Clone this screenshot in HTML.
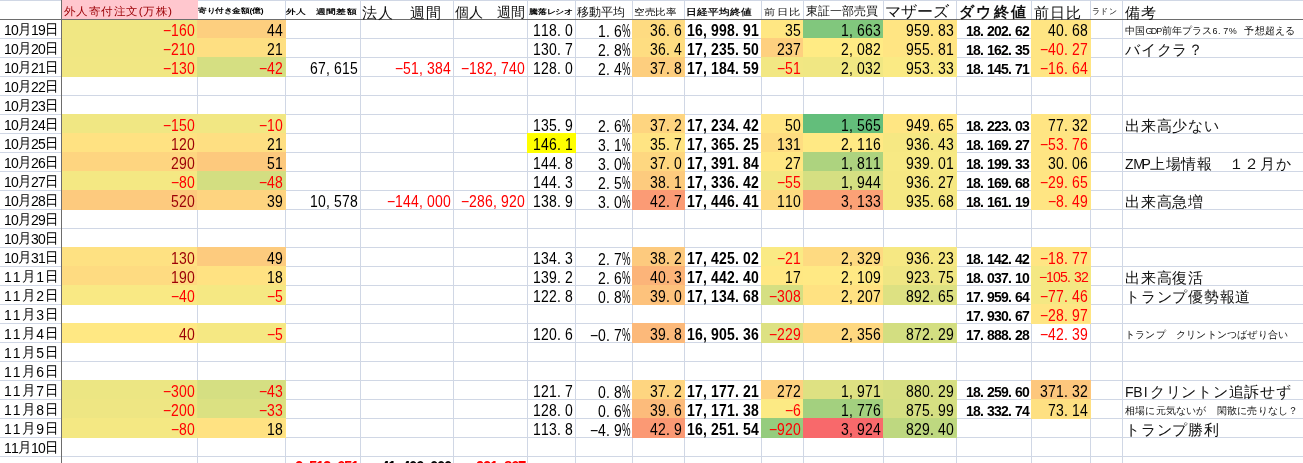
<!DOCTYPE html><html lang="ja"><head><meta charset="utf-8"><style>
html,body{margin:0;padding:0;background:#fff;}
body{width:1303px;height:463px;overflow:hidden;position:relative;font-family:"Liberation Sans",sans-serif;}
.vl{position:absolute;top:0;width:1px;height:463px;background:#D0D7E5}
.hl{position:absolute;left:0;height:1px;width:1303px;background:#D0D7E5}
.f{position:absolute}
.tx{position:absolute;left:0;top:0;width:1303px;height:463px;will-change:transform}
.dk1{position:absolute;left:61px;top:0;width:1px;height:463px;background:#6D6D6D}
.dk2{position:absolute;left:0;top:19px;height:1px;width:1303px;background:#6D6D6D}
.n{position:absolute;height:19px;line-height:19px;white-space:nowrap;transform:scaleY(1.13);transform-origin:0 17px}
.n i{display:inline-block;font-style:normal;text-align:left;overflow:visible}
.n.b{font-weight:bold}
.dt{position:absolute;left:4px;width:54px;display:flex;justify-content:space-between;height:19px;line-height:19px;font-size:14px;white-space:nowrap;transform:scaleY(1.04);transform-origin:0 16px;padding-top:2px;box-sizing:border-box}
.dt i{display:inline-block;font-style:normal;width:7px}
.dt b{font-weight:normal;font-size:13.5px;display:inline-block;width:13px;vertical-align:top;margin-top:-1.5px}
.note{position:absolute;left:1125px;height:19px;white-space:nowrap;color:#111}
.note.big{font-size:15px;line-height:19px;letter-spacing:0.75px;padding-top:1.5px}
.note.big i{display:inline-block;font-style:normal;width:8.3px;text-align:center;letter-spacing:0;font-size:14px}
.note.small{font-size:9.5px;line-height:19px;padding-top:2px;letter-spacing:0.2px}
.note.small i{display:inline-block;font-style:normal;width:5.4px;text-align:left;font-size:9px}
.h{position:absolute;top:0;height:19px;line-height:19px;white-space:nowrap;color:#111;transform-origin:0 15px}
.hB{color:#9C0006;font-size:12px}
.hC{font-size:8px;font-weight:bold}
.hD{font-size:9px}
.hE{font-size:15px;letter-spacing:0.6px}
.hF{font-size:14px}
.hG{font-size:8px;font-weight:bold}
.hH{font-size:12px}
.hI{font-size:10px}
.hJ{font-size:11px;font-weight:bold}
.hK{font-size:11.5px}
.hL{font-size:11.5px}
.hM{font-size:15.5px}
.hN{font-size:16px;font-weight:bold}
.hO{font-size:15px}
.hP{font-size:7px}
.hQ{font-size:15px}
</style></head><body><div class="vl" style="left:197px"></div><div class="vl" style="left:285px"></div><div class="vl" style="left:360px"></div><div class="vl" style="left:453px"></div><div class="vl" style="left:527px"></div><div class="vl" style="left:575px"></div><div class="vl" style="left:632px"></div><div class="vl" style="left:684px"></div><div class="vl" style="left:761px"></div><div class="vl" style="left:803px"></div><div class="vl" style="left:883px"></div><div class="vl" style="left:956px"></div><div class="vl" style="left:1031px"></div><div class="vl" style="left:1090px"></div><div class="vl" style="left:1122px"></div><div class="hl" style="top:0px"></div><div class="hl" style="top:38px"></div><div class="hl" style="top:57px"></div><div class="hl" style="top:76px"></div><div class="hl" style="top:95px"></div><div class="hl" style="top:114px"></div><div class="hl" style="top:133px"></div><div class="hl" style="top:152px"></div><div class="hl" style="top:171px"></div><div class="hl" style="top:190px"></div><div class="hl" style="top:209px"></div><div class="hl" style="top:228px"></div><div class="hl" style="top:247px"></div><div class="hl" style="top:266px"></div><div class="hl" style="top:285px"></div><div class="hl" style="top:304px"></div><div class="hl" style="top:323px"></div><div class="hl" style="top:342px"></div><div class="hl" style="top:361px"></div><div class="hl" style="top:380px"></div><div class="hl" style="top:399px"></div><div class="hl" style="top:418px"></div><div class="hl" style="top:437px"></div><div class="hl" style="top:456px"></div><div class="f" style="left:61px;top:19px;width:137px;height:20px;background:#F0E783"></div><div class="f" style="left:197px;top:19px;width:89px;height:20px;background:#FDCF7F"></div><div class="f" style="left:61px;top:38px;width:137px;height:20px;background:#F0E783"></div><div class="f" style="left:197px;top:38px;width:89px;height:20px;background:#FEDF82"></div><div class="f" style="left:61px;top:57px;width:137px;height:20px;background:#F1E783"></div><div class="f" style="left:197px;top:57px;width:89px;height:20px;background:#D5DF82"></div><div class="f" style="left:61px;top:114px;width:137px;height:20px;background:#F0E783"></div><div class="f" style="left:197px;top:114px;width:89px;height:20px;background:#F1E783"></div><div class="f" style="left:61px;top:133px;width:137px;height:20px;background:#FFE282"></div><div class="f" style="left:197px;top:133px;width:89px;height:20px;background:#FEDF82"></div><div class="f" style="left:61px;top:152px;width:137px;height:20px;background:#FED580"></div><div class="f" style="left:197px;top:152px;width:89px;height:20px;background:#FDC97D"></div><div class="f" style="left:61px;top:171px;width:137px;height:20px;background:#F4E883"></div><div class="f" style="left:197px;top:171px;width:89px;height:20px;background:#D3DE81"></div><div class="f" style="left:61px;top:190px;width:137px;height:20px;background:#FDCA7E"></div><div class="f" style="left:197px;top:190px;width:89px;height:20px;background:#FED480"></div><div class="f" style="left:61px;top:247px;width:137px;height:20px;background:#FEE182"></div><div class="f" style="left:197px;top:247px;width:89px;height:20px;background:#FDCB7E"></div><div class="f" style="left:61px;top:266px;width:137px;height:20px;background:#FEDB81"></div><div class="f" style="left:197px;top:266px;width:89px;height:20px;background:#FFE282"></div><div class="f" style="left:61px;top:285px;width:137px;height:20px;background:#F9E984"></div><div class="f" style="left:197px;top:285px;width:89px;height:20px;background:#F5E883"></div><div class="f" style="left:61px;top:323px;width:137px;height:20px;background:#FFE883"></div><div class="f" style="left:197px;top:323px;width:89px;height:20px;background:#F5E883"></div><div class="f" style="left:61px;top:380px;width:137px;height:20px;background:#ECE683"></div><div class="f" style="left:197px;top:380px;width:89px;height:20px;background:#D5DF82"></div><div class="f" style="left:61px;top:399px;width:137px;height:20px;background:#EEE683"></div><div class="f" style="left:197px;top:399px;width:89px;height:20px;background:#DBE182"></div><div class="f" style="left:61px;top:418px;width:137px;height:20px;background:#F4E883"></div><div class="f" style="left:197px;top:418px;width:89px;height:20px;background:#FFE282"></div><div class="f" style="left:632px;top:19px;width:53px;height:20px;background:#FEDB81"></div><div class="f" style="left:761px;top:19px;width:43px;height:20px;background:#FFE783"></div><div class="f" style="left:803px;top:19px;width:81px;height:20px;background:#81C77D"></div><div class="f" style="left:883px;top:19px;width:74px;height:20px;background:#FFE583"></div><div class="f" style="left:1031px;top:19px;width:60px;height:20px;background:#FFE583"></div><div class="f" style="left:632px;top:38px;width:53px;height:20px;background:#FEDD81"></div><div class="f" style="left:761px;top:38px;width:43px;height:20px;background:#FED07F"></div><div class="f" style="left:803px;top:38px;width:81px;height:20px;background:#FFEB84"></div><div class="f" style="left:883px;top:38px;width:74px;height:20px;background:#FFE583"></div><div class="f" style="left:1031px;top:38px;width:60px;height:20px;background:#FFE583"></div><div class="f" style="left:632px;top:57px;width:53px;height:20px;background:#FDCE7E"></div><div class="f" style="left:761px;top:57px;width:43px;height:20px;background:#F2E783"></div><div class="f" style="left:803px;top:57px;width:81px;height:20px;background:#F0E783"></div><div class="f" style="left:883px;top:57px;width:74px;height:20px;background:#FAEA84"></div><div class="f" style="left:1031px;top:57px;width:60px;height:20px;background:#FFE583"></div><div class="f" style="left:632px;top:114px;width:53px;height:20px;background:#FED580"></div><div class="f" style="left:761px;top:114px;width:43px;height:20px;background:#FFE583"></div><div class="f" style="left:803px;top:114px;width:81px;height:20px;background:#63BE7B"></div><div class="f" style="left:883px;top:114px;width:74px;height:20px;background:#FFE683"></div><div class="f" style="left:1031px;top:114px;width:60px;height:20px;background:#FFE583"></div><div class="f" style="left:527px;top:133px;width:49px;height:20px;background:#FFFF00"></div><div class="f" style="left:632px;top:133px;width:53px;height:20px;background:#FFE483"></div><div class="f" style="left:761px;top:133px;width:43px;height:20px;background:#FEDD81"></div><div class="f" style="left:803px;top:133px;width:81px;height:20px;background:#FFE984"></div><div class="f" style="left:883px;top:133px;width:74px;height:20px;background:#F6E883"></div><div class="f" style="left:1031px;top:133px;width:60px;height:20px;background:#FFE583"></div><div class="f" style="left:632px;top:152px;width:53px;height:20px;background:#FED780"></div><div class="f" style="left:761px;top:152px;width:43px;height:20px;background:#FFE783"></div><div class="f" style="left:803px;top:152px;width:81px;height:20px;background:#ADD37F"></div><div class="f" style="left:883px;top:152px;width:74px;height:20px;background:#F7E984"></div><div class="f" style="left:1031px;top:152px;width:60px;height:20px;background:#FFE583"></div><div class="f" style="left:632px;top:171px;width:53px;height:20px;background:#FDCB7E"></div><div class="f" style="left:761px;top:171px;width:43px;height:20px;background:#F2E783"></div><div class="f" style="left:803px;top:171px;width:81px;height:20px;background:#D5DF82"></div><div class="f" style="left:883px;top:171px;width:74px;height:20px;background:#F6E883"></div><div class="f" style="left:1031px;top:171px;width:60px;height:20px;background:#FFE583"></div><div class="f" style="left:632px;top:190px;width:53px;height:20px;background:#FB9B75"></div><div class="f" style="left:761px;top:190px;width:43px;height:20px;background:#FEDB81"></div><div class="f" style="left:803px;top:190px;width:81px;height:20px;background:#FBA176"></div><div class="f" style="left:883px;top:190px;width:74px;height:20px;background:#F5E883"></div><div class="f" style="left:1031px;top:190px;width:60px;height:20px;background:#FFE583"></div><div class="f" style="left:632px;top:247px;width:53px;height:20px;background:#FDCA7E"></div><div class="f" style="left:761px;top:247px;width:43px;height:20px;background:#FAEA84"></div><div class="f" style="left:803px;top:247px;width:81px;height:20px;background:#FEDA81"></div><div class="f" style="left:883px;top:247px;width:74px;height:20px;background:#F6E883"></div><div class="f" style="left:1031px;top:247px;width:60px;height:20px;background:#FFE583"></div><div class="f" style="left:632px;top:266px;width:53px;height:20px;background:#FCB479"></div><div class="f" style="left:761px;top:266px;width:43px;height:20px;background:#FFE883"></div><div class="f" style="left:803px;top:266px;width:81px;height:20px;background:#FFE984"></div><div class="f" style="left:883px;top:266px;width:74px;height:20px;background:#EFE683"></div><div class="f" style="left:1031px;top:266px;width:60px;height:20px;background:#F4E883"></div><div class="f" style="left:632px;top:285px;width:53px;height:20px;background:#FDC27C"></div><div class="f" style="left:761px;top:285px;width:43px;height:20px;background:#D5DF82"></div><div class="f" style="left:803px;top:285px;width:81px;height:20px;background:#FFE282"></div><div class="f" style="left:883px;top:285px;width:74px;height:20px;background:#DDE182"></div><div class="f" style="left:1031px;top:285px;width:60px;height:20px;background:#F4E883"></div><div class="f" style="left:1031px;top:304px;width:60px;height:20px;background:#FFE583"></div><div class="f" style="left:632px;top:323px;width:53px;height:20px;background:#FCB97A"></div><div class="f" style="left:761px;top:323px;width:43px;height:20px;background:#DDE182"></div><div class="f" style="left:803px;top:323px;width:81px;height:20px;background:#FED880"></div><div class="f" style="left:883px;top:323px;width:74px;height:20px;background:#D3DE81"></div><div class="f" style="left:632px;top:380px;width:53px;height:20px;background:#FED580"></div><div class="f" style="left:761px;top:380px;width:43px;height:20px;background:#FED17F"></div><div class="f" style="left:803px;top:380px;width:81px;height:20px;background:#DEE182"></div><div class="f" style="left:883px;top:380px;width:74px;height:20px;background:#D7DF82"></div><div class="f" style="left:1031px;top:380px;width:60px;height:20px;background:#FDC77D"></div><div class="f" style="left:632px;top:399px;width:53px;height:20px;background:#FCBB7B"></div><div class="f" style="left:761px;top:399px;width:43px;height:20px;background:#FCEA84"></div><div class="f" style="left:803px;top:399px;width:81px;height:20px;background:#A3D07F"></div><div class="f" style="left:883px;top:399px;width:74px;height:20px;background:#D5DF82"></div><div class="f" style="left:1031px;top:399px;width:60px;height:20px;background:#FEE082"></div><div class="f" style="left:632px;top:418px;width:53px;height:20px;background:#FB9974"></div><div class="f" style="left:761px;top:418px;width:43px;height:20px;background:#95CC7E"></div><div class="f" style="left:803px;top:418px;width:81px;height:20px;background:#F8696B"></div><div class="f" style="left:883px;top:418px;width:74px;height:20px;background:#BED880"></div><div class="f" style="left:61px;top:0px;width:137px;height:20px;background:#FFC7CE"></div><div class="dk1"></div><div class="dk2"></div><div class="tx"><div class="n" style="left:163px;top:22px;color:#FF0000;font-size:14px"><i style="width:8px">&#8722;</i><i style="width:8px">1</i><i style="width:8px">6</i><i style="width:8px">0</i></div><div class="n" style="left:267px;top:22px;color:#000;font-size:14px"><i style="width:8px">4</i><i style="width:8px">4</i></div><div class="n" style="left:163px;top:41px;color:#FF0000;font-size:14px"><i style="width:8px">&#8722;</i><i style="width:8px">2</i><i style="width:8px">1</i><i style="width:8px">0</i></div><div class="n" style="left:267px;top:41px;color:#000;font-size:14px"><i style="width:8px">2</i><i style="width:8px">1</i></div><div class="n" style="left:163px;top:60px;color:#FF0000;font-size:14px"><i style="width:8px">&#8722;</i><i style="width:8px">1</i><i style="width:8px">3</i><i style="width:8px">0</i></div><div class="n" style="left:259px;top:60px;color:#FF0000;font-size:14px"><i style="width:8px">&#8722;</i><i style="width:8px">4</i><i style="width:8px">2</i></div><div class="n" style="left:163px;top:117px;color:#FF0000;font-size:14px"><i style="width:8px">&#8722;</i><i style="width:8px">1</i><i style="width:8px">5</i><i style="width:8px">0</i></div><div class="n" style="left:259px;top:117px;color:#FF0000;font-size:14px"><i style="width:8px">&#8722;</i><i style="width:8px">1</i><i style="width:8px">0</i></div><div class="n" style="left:171px;top:136px;color:#9C0006;font-size:14px"><i style="width:8px">1</i><i style="width:8px">2</i><i style="width:8px">0</i></div><div class="n" style="left:267px;top:136px;color:#000;font-size:14px"><i style="width:8px">2</i><i style="width:8px">1</i></div><div class="n" style="left:171px;top:155px;color:#9C0006;font-size:14px"><i style="width:8px">2</i><i style="width:8px">9</i><i style="width:8px">0</i></div><div class="n" style="left:267px;top:155px;color:#000;font-size:14px"><i style="width:8px">5</i><i style="width:8px">1</i></div><div class="n" style="left:171px;top:174px;color:#FF0000;font-size:14px"><i style="width:8px">&#8722;</i><i style="width:8px">8</i><i style="width:8px">0</i></div><div class="n" style="left:259px;top:174px;color:#FF0000;font-size:14px"><i style="width:8px">&#8722;</i><i style="width:8px">4</i><i style="width:8px">8</i></div><div class="n" style="left:171px;top:193px;color:#9C0006;font-size:14px"><i style="width:8px">5</i><i style="width:8px">2</i><i style="width:8px">0</i></div><div class="n" style="left:267px;top:193px;color:#000;font-size:14px"><i style="width:8px">3</i><i style="width:8px">9</i></div><div class="n" style="left:171px;top:250px;color:#9C0006;font-size:14px"><i style="width:8px">1</i><i style="width:8px">3</i><i style="width:8px">0</i></div><div class="n" style="left:267px;top:250px;color:#000;font-size:14px"><i style="width:8px">4</i><i style="width:8px">9</i></div><div class="n" style="left:171px;top:269px;color:#9C0006;font-size:14px"><i style="width:8px">1</i><i style="width:8px">9</i><i style="width:8px">0</i></div><div class="n" style="left:267px;top:269px;color:#000;font-size:14px"><i style="width:8px">1</i><i style="width:8px">8</i></div><div class="n" style="left:171px;top:288px;color:#FF0000;font-size:14px"><i style="width:8px">&#8722;</i><i style="width:8px">4</i><i style="width:8px">0</i></div><div class="n" style="left:267px;top:288px;color:#FF0000;font-size:14px"><i style="width:8px">&#8722;</i><i style="width:8px">5</i></div><div class="n" style="left:179px;top:326px;color:#9C0006;font-size:14px"><i style="width:8px">4</i><i style="width:8px">0</i></div><div class="n" style="left:267px;top:326px;color:#FF0000;font-size:14px"><i style="width:8px">&#8722;</i><i style="width:8px">5</i></div><div class="n" style="left:163px;top:383px;color:#FF0000;font-size:14px"><i style="width:8px">&#8722;</i><i style="width:8px">3</i><i style="width:8px">0</i><i style="width:8px">0</i></div><div class="n" style="left:259px;top:383px;color:#FF0000;font-size:14px"><i style="width:8px">&#8722;</i><i style="width:8px">4</i><i style="width:8px">3</i></div><div class="n" style="left:163px;top:402px;color:#FF0000;font-size:14px"><i style="width:8px">&#8722;</i><i style="width:8px">2</i><i style="width:8px">0</i><i style="width:8px">0</i></div><div class="n" style="left:259px;top:402px;color:#FF0000;font-size:14px"><i style="width:8px">&#8722;</i><i style="width:8px">3</i><i style="width:8px">3</i></div><div class="n" style="left:171px;top:421px;color:#FF0000;font-size:14px"><i style="width:8px">&#8722;</i><i style="width:8px">8</i><i style="width:8px">0</i></div><div class="n" style="left:267px;top:421px;color:#000;font-size:14px"><i style="width:8px">1</i><i style="width:8px">8</i></div><div class="n" style="left:533px;top:22px;color:#000;font-size:14px"><i style="width:8px">1</i><i style="width:8px">1</i><i style="width:8px">8</i><i style="width:8px">.</i><i style="width:8px">0</i></div><div class="n" style="left:598px;top:22px;color:#000;font-size:14px"><i style="width:8px">1</i><i style="width:8px">.</i><i style="width:8px">6</i><i style="width:8px"><span style="display:inline-block;font-size:16px;transform:scaleX(0.6);transform-origin:0 0">%</span></i></div><div class="n" style="left:650px;top:22px;color:#000;font-size:14px"><i style="width:8px">3</i><i style="width:8px">6</i><i style="width:8px">.</i><i style="width:8px">6</i></div><div class="n b" style="left:687px;top:22px;color:#000;font-size:14px"><i style="width:8px">1</i><i style="width:8px">6</i><i style="width:8px">,</i><i style="width:8px">9</i><i style="width:8px">9</i><i style="width:8px">8</i><i style="width:8px">.</i><i style="width:8px">9</i><i style="width:8px">1</i></div><div class="n" style="left:785px;top:22px;color:#000;font-size:14px"><i style="width:8px">3</i><i style="width:8px">5</i></div><div class="n" style="left:841px;top:22px;color:#000;font-size:14px"><i style="width:8px">1</i><i style="width:8px">,</i><i style="width:8px">6</i><i style="width:8px">6</i><i style="width:8px">3</i></div><div class="n" style="left:906px;top:22px;color:#000;font-size:14px"><i style="width:8px">9</i><i style="width:8px">5</i><i style="width:8px">9</i><i style="width:8px">.</i><i style="width:8px">8</i><i style="width:8px">3</i></div><div class="n b" style="left:966px;top:21.5px;color:#000;font-size:14px;transform:scaleY(1.04)"><i style="width:7px">1</i><i style="width:7px">8</i><i style="width:7px">.</i><i style="width:7px">2</i><i style="width:7px">0</i><i style="width:7px">2</i><i style="width:7px">.</i><i style="width:7px">6</i><i style="width:7px">2</i></div><div class="n" style="left:1048px;top:22px;color:#000;font-size:14px"><i style="width:8px">4</i><i style="width:8px">0</i><i style="width:8px">.</i><i style="width:8px">6</i><i style="width:8px">8</i></div><div class="n" style="left:533px;top:41px;color:#000;font-size:14px"><i style="width:8px">1</i><i style="width:8px">3</i><i style="width:8px">0</i><i style="width:8px">.</i><i style="width:8px">7</i></div><div class="n" style="left:598px;top:41px;color:#000;font-size:14px"><i style="width:8px">2</i><i style="width:8px">.</i><i style="width:8px">8</i><i style="width:8px"><span style="display:inline-block;font-size:16px;transform:scaleX(0.6);transform-origin:0 0">%</span></i></div><div class="n" style="left:650px;top:41px;color:#000;font-size:14px"><i style="width:8px">3</i><i style="width:8px">6</i><i style="width:8px">.</i><i style="width:8px">4</i></div><div class="n b" style="left:687px;top:41px;color:#000;font-size:14px"><i style="width:8px">1</i><i style="width:8px">7</i><i style="width:8px">,</i><i style="width:8px">2</i><i style="width:8px">3</i><i style="width:8px">5</i><i style="width:8px">.</i><i style="width:8px">5</i><i style="width:8px">0</i></div><div class="n" style="left:777px;top:41px;color:#000;font-size:14px"><i style="width:8px">2</i><i style="width:8px">3</i><i style="width:8px">7</i></div><div class="n" style="left:841px;top:41px;color:#000;font-size:14px"><i style="width:8px">2</i><i style="width:8px">,</i><i style="width:8px">0</i><i style="width:8px">8</i><i style="width:8px">2</i></div><div class="n" style="left:906px;top:41px;color:#000;font-size:14px"><i style="width:8px">9</i><i style="width:8px">5</i><i style="width:8px">5</i><i style="width:8px">.</i><i style="width:8px">8</i><i style="width:8px">1</i></div><div class="n b" style="left:966px;top:40.5px;color:#000;font-size:14px;transform:scaleY(1.04)"><i style="width:7px">1</i><i style="width:7px">8</i><i style="width:7px">.</i><i style="width:7px">1</i><i style="width:7px">6</i><i style="width:7px">2</i><i style="width:7px">.</i><i style="width:7px">3</i><i style="width:7px">5</i></div><div class="n" style="left:1040px;top:41px;color:#FF0000;font-size:14px"><i style="width:8px">&#8722;</i><i style="width:8px">4</i><i style="width:8px">0</i><i style="width:8px">.</i><i style="width:8px">2</i><i style="width:8px">7</i></div><div class="n" style="left:533px;top:60px;color:#000;font-size:14px"><i style="width:8px">1</i><i style="width:8px">2</i><i style="width:8px">8</i><i style="width:8px">.</i><i style="width:8px">0</i></div><div class="n" style="left:598px;top:60px;color:#000;font-size:14px"><i style="width:8px">2</i><i style="width:8px">.</i><i style="width:8px">4</i><i style="width:8px"><span style="display:inline-block;font-size:16px;transform:scaleX(0.6);transform-origin:0 0">%</span></i></div><div class="n" style="left:650px;top:60px;color:#000;font-size:14px"><i style="width:8px">3</i><i style="width:8px">7</i><i style="width:8px">.</i><i style="width:8px">8</i></div><div class="n b" style="left:687px;top:60px;color:#000;font-size:14px"><i style="width:8px">1</i><i style="width:8px">7</i><i style="width:8px">,</i><i style="width:8px">1</i><i style="width:8px">8</i><i style="width:8px">4</i><i style="width:8px">.</i><i style="width:8px">5</i><i style="width:8px">9</i></div><div class="n" style="left:777px;top:60px;color:#FF0000;font-size:14px"><i style="width:8px">&#8722;</i><i style="width:8px">5</i><i style="width:8px">1</i></div><div class="n" style="left:841px;top:60px;color:#000;font-size:14px"><i style="width:8px">2</i><i style="width:8px">,</i><i style="width:8px">0</i><i style="width:8px">3</i><i style="width:8px">2</i></div><div class="n" style="left:906px;top:60px;color:#000;font-size:14px"><i style="width:8px">9</i><i style="width:8px">5</i><i style="width:8px">3</i><i style="width:8px">.</i><i style="width:8px">3</i><i style="width:8px">3</i></div><div class="n b" style="left:966px;top:59.5px;color:#000;font-size:14px;transform:scaleY(1.04)"><i style="width:7px">1</i><i style="width:7px">8</i><i style="width:7px">.</i><i style="width:7px">1</i><i style="width:7px">4</i><i style="width:7px">5</i><i style="width:7px">.</i><i style="width:7px">7</i><i style="width:7px">1</i></div><div class="n" style="left:1040px;top:60px;color:#FF0000;font-size:14px"><i style="width:8px">&#8722;</i><i style="width:8px">1</i><i style="width:8px">6</i><i style="width:8px">.</i><i style="width:8px">6</i><i style="width:8px">4</i></div><div class="n" style="left:533px;top:117px;color:#000;font-size:14px"><i style="width:8px">1</i><i style="width:8px">3</i><i style="width:8px">5</i><i style="width:8px">.</i><i style="width:8px">9</i></div><div class="n" style="left:598px;top:117px;color:#000;font-size:14px"><i style="width:8px">2</i><i style="width:8px">.</i><i style="width:8px">6</i><i style="width:8px"><span style="display:inline-block;font-size:16px;transform:scaleX(0.6);transform-origin:0 0">%</span></i></div><div class="n" style="left:650px;top:117px;color:#000;font-size:14px"><i style="width:8px">3</i><i style="width:8px">7</i><i style="width:8px">.</i><i style="width:8px">2</i></div><div class="n b" style="left:687px;top:117px;color:#000;font-size:14px"><i style="width:8px">1</i><i style="width:8px">7</i><i style="width:8px">,</i><i style="width:8px">2</i><i style="width:8px">3</i><i style="width:8px">4</i><i style="width:8px">.</i><i style="width:8px">4</i><i style="width:8px">2</i></div><div class="n" style="left:785px;top:117px;color:#000;font-size:14px"><i style="width:8px">5</i><i style="width:8px">0</i></div><div class="n" style="left:841px;top:117px;color:#000;font-size:14px"><i style="width:8px">1</i><i style="width:8px">,</i><i style="width:8px">5</i><i style="width:8px">6</i><i style="width:8px">5</i></div><div class="n" style="left:906px;top:117px;color:#000;font-size:14px"><i style="width:8px">9</i><i style="width:8px">4</i><i style="width:8px">9</i><i style="width:8px">.</i><i style="width:8px">6</i><i style="width:8px">5</i></div><div class="n b" style="left:966px;top:116.5px;color:#000;font-size:14px;transform:scaleY(1.04)"><i style="width:7px">1</i><i style="width:7px">8</i><i style="width:7px">.</i><i style="width:7px">2</i><i style="width:7px">2</i><i style="width:7px">3</i><i style="width:7px">.</i><i style="width:7px">0</i><i style="width:7px">3</i></div><div class="n" style="left:1048px;top:117px;color:#000;font-size:14px"><i style="width:8px">7</i><i style="width:8px">7</i><i style="width:8px">.</i><i style="width:8px">3</i><i style="width:8px">2</i></div><div class="n" style="left:533px;top:136px;color:#000;font-size:14px"><i style="width:8px">1</i><i style="width:8px">4</i><i style="width:8px">6</i><i style="width:8px">.</i><i style="width:8px">1</i></div><div class="n" style="left:598px;top:136px;color:#000;font-size:14px"><i style="width:8px">3</i><i style="width:8px">.</i><i style="width:8px">1</i><i style="width:8px"><span style="display:inline-block;font-size:16px;transform:scaleX(0.6);transform-origin:0 0">%</span></i></div><div class="n" style="left:650px;top:136px;color:#000;font-size:14px"><i style="width:8px">3</i><i style="width:8px">5</i><i style="width:8px">.</i><i style="width:8px">7</i></div><div class="n b" style="left:687px;top:136px;color:#000;font-size:14px"><i style="width:8px">1</i><i style="width:8px">7</i><i style="width:8px">,</i><i style="width:8px">3</i><i style="width:8px">6</i><i style="width:8px">5</i><i style="width:8px">.</i><i style="width:8px">2</i><i style="width:8px">5</i></div><div class="n" style="left:777px;top:136px;color:#000;font-size:14px"><i style="width:8px">1</i><i style="width:8px">3</i><i style="width:8px">1</i></div><div class="n" style="left:841px;top:136px;color:#000;font-size:14px"><i style="width:8px">2</i><i style="width:8px">,</i><i style="width:8px">1</i><i style="width:8px">1</i><i style="width:8px">6</i></div><div class="n" style="left:906px;top:136px;color:#000;font-size:14px"><i style="width:8px">9</i><i style="width:8px">3</i><i style="width:8px">6</i><i style="width:8px">.</i><i style="width:8px">4</i><i style="width:8px">3</i></div><div class="n b" style="left:966px;top:135.5px;color:#000;font-size:14px;transform:scaleY(1.04)"><i style="width:7px">1</i><i style="width:7px">8</i><i style="width:7px">.</i><i style="width:7px">1</i><i style="width:7px">6</i><i style="width:7px">9</i><i style="width:7px">.</i><i style="width:7px">2</i><i style="width:7px">7</i></div><div class="n" style="left:1040px;top:136px;color:#FF0000;font-size:14px"><i style="width:8px">&#8722;</i><i style="width:8px">5</i><i style="width:8px">3</i><i style="width:8px">.</i><i style="width:8px">7</i><i style="width:8px">6</i></div><div class="n" style="left:533px;top:155px;color:#000;font-size:14px"><i style="width:8px">1</i><i style="width:8px">4</i><i style="width:8px">4</i><i style="width:8px">.</i><i style="width:8px">8</i></div><div class="n" style="left:598px;top:155px;color:#000;font-size:14px"><i style="width:8px">3</i><i style="width:8px">.</i><i style="width:8px">0</i><i style="width:8px"><span style="display:inline-block;font-size:16px;transform:scaleX(0.6);transform-origin:0 0">%</span></i></div><div class="n" style="left:650px;top:155px;color:#000;font-size:14px"><i style="width:8px">3</i><i style="width:8px">7</i><i style="width:8px">.</i><i style="width:8px">0</i></div><div class="n b" style="left:687px;top:155px;color:#000;font-size:14px"><i style="width:8px">1</i><i style="width:8px">7</i><i style="width:8px">,</i><i style="width:8px">3</i><i style="width:8px">9</i><i style="width:8px">1</i><i style="width:8px">.</i><i style="width:8px">8</i><i style="width:8px">4</i></div><div class="n" style="left:785px;top:155px;color:#000;font-size:14px"><i style="width:8px">2</i><i style="width:8px">7</i></div><div class="n" style="left:841px;top:155px;color:#000;font-size:14px"><i style="width:8px">1</i><i style="width:8px">,</i><i style="width:8px">8</i><i style="width:8px">1</i><i style="width:8px">1</i></div><div class="n" style="left:906px;top:155px;color:#000;font-size:14px"><i style="width:8px">9</i><i style="width:8px">3</i><i style="width:8px">9</i><i style="width:8px">.</i><i style="width:8px">0</i><i style="width:8px">1</i></div><div class="n b" style="left:966px;top:154.5px;color:#000;font-size:14px;transform:scaleY(1.04)"><i style="width:7px">1</i><i style="width:7px">8</i><i style="width:7px">.</i><i style="width:7px">1</i><i style="width:7px">9</i><i style="width:7px">9</i><i style="width:7px">.</i><i style="width:7px">3</i><i style="width:7px">3</i></div><div class="n" style="left:1048px;top:155px;color:#000;font-size:14px"><i style="width:8px">3</i><i style="width:8px">0</i><i style="width:8px">.</i><i style="width:8px">0</i><i style="width:8px">6</i></div><div class="n" style="left:533px;top:174px;color:#000;font-size:14px"><i style="width:8px">1</i><i style="width:8px">4</i><i style="width:8px">4</i><i style="width:8px">.</i><i style="width:8px">3</i></div><div class="n" style="left:598px;top:174px;color:#000;font-size:14px"><i style="width:8px">2</i><i style="width:8px">.</i><i style="width:8px">5</i><i style="width:8px"><span style="display:inline-block;font-size:16px;transform:scaleX(0.6);transform-origin:0 0">%</span></i></div><div class="n" style="left:650px;top:174px;color:#000;font-size:14px"><i style="width:8px">3</i><i style="width:8px">8</i><i style="width:8px">.</i><i style="width:8px">1</i></div><div class="n b" style="left:687px;top:174px;color:#000;font-size:14px"><i style="width:8px">1</i><i style="width:8px">7</i><i style="width:8px">,</i><i style="width:8px">3</i><i style="width:8px">3</i><i style="width:8px">6</i><i style="width:8px">.</i><i style="width:8px">4</i><i style="width:8px">2</i></div><div class="n" style="left:777px;top:174px;color:#FF0000;font-size:14px"><i style="width:8px">&#8722;</i><i style="width:8px">5</i><i style="width:8px">5</i></div><div class="n" style="left:841px;top:174px;color:#000;font-size:14px"><i style="width:8px">1</i><i style="width:8px">,</i><i style="width:8px">9</i><i style="width:8px">4</i><i style="width:8px">4</i></div><div class="n" style="left:906px;top:174px;color:#000;font-size:14px"><i style="width:8px">9</i><i style="width:8px">3</i><i style="width:8px">6</i><i style="width:8px">.</i><i style="width:8px">2</i><i style="width:8px">7</i></div><div class="n b" style="left:966px;top:173.5px;color:#000;font-size:14px;transform:scaleY(1.04)"><i style="width:7px">1</i><i style="width:7px">8</i><i style="width:7px">.</i><i style="width:7px">1</i><i style="width:7px">6</i><i style="width:7px">9</i><i style="width:7px">.</i><i style="width:7px">6</i><i style="width:7px">8</i></div><div class="n" style="left:1040px;top:174px;color:#FF0000;font-size:14px"><i style="width:8px">&#8722;</i><i style="width:8px">2</i><i style="width:8px">9</i><i style="width:8px">.</i><i style="width:8px">6</i><i style="width:8px">5</i></div><div class="n" style="left:533px;top:193px;color:#000;font-size:14px"><i style="width:8px">1</i><i style="width:8px">3</i><i style="width:8px">8</i><i style="width:8px">.</i><i style="width:8px">9</i></div><div class="n" style="left:598px;top:193px;color:#000;font-size:14px"><i style="width:8px">3</i><i style="width:8px">.</i><i style="width:8px">0</i><i style="width:8px"><span style="display:inline-block;font-size:16px;transform:scaleX(0.6);transform-origin:0 0">%</span></i></div><div class="n" style="left:650px;top:193px;color:#000;font-size:14px"><i style="width:8px">4</i><i style="width:8px">2</i><i style="width:8px">.</i><i style="width:8px">7</i></div><div class="n b" style="left:687px;top:193px;color:#000;font-size:14px"><i style="width:8px">1</i><i style="width:8px">7</i><i style="width:8px">,</i><i style="width:8px">4</i><i style="width:8px">4</i><i style="width:8px">6</i><i style="width:8px">.</i><i style="width:8px">4</i><i style="width:8px">1</i></div><div class="n" style="left:777px;top:193px;color:#000;font-size:14px"><i style="width:8px">1</i><i style="width:8px">1</i><i style="width:8px">0</i></div><div class="n" style="left:841px;top:193px;color:#000;font-size:14px"><i style="width:8px">3</i><i style="width:8px">,</i><i style="width:8px">1</i><i style="width:8px">3</i><i style="width:8px">3</i></div><div class="n" style="left:906px;top:193px;color:#000;font-size:14px"><i style="width:8px">9</i><i style="width:8px">3</i><i style="width:8px">5</i><i style="width:8px">.</i><i style="width:8px">6</i><i style="width:8px">8</i></div><div class="n b" style="left:966px;top:192.5px;color:#000;font-size:14px;transform:scaleY(1.04)"><i style="width:7px">1</i><i style="width:7px">8</i><i style="width:7px">.</i><i style="width:7px">1</i><i style="width:7px">6</i><i style="width:7px">1</i><i style="width:7px">.</i><i style="width:7px">1</i><i style="width:7px">9</i></div><div class="n" style="left:1048px;top:193px;color:#FF0000;font-size:14px"><i style="width:8px">&#8722;</i><i style="width:8px">8</i><i style="width:8px">.</i><i style="width:8px">4</i><i style="width:8px">9</i></div><div class="n" style="left:533px;top:250px;color:#000;font-size:14px"><i style="width:8px">1</i><i style="width:8px">3</i><i style="width:8px">4</i><i style="width:8px">.</i><i style="width:8px">3</i></div><div class="n" style="left:598px;top:250px;color:#000;font-size:14px"><i style="width:8px">2</i><i style="width:8px">.</i><i style="width:8px">7</i><i style="width:8px"><span style="display:inline-block;font-size:16px;transform:scaleX(0.6);transform-origin:0 0">%</span></i></div><div class="n" style="left:650px;top:250px;color:#000;font-size:14px"><i style="width:8px">3</i><i style="width:8px">8</i><i style="width:8px">.</i><i style="width:8px">2</i></div><div class="n b" style="left:687px;top:250px;color:#000;font-size:14px"><i style="width:8px">1</i><i style="width:8px">7</i><i style="width:8px">,</i><i style="width:8px">4</i><i style="width:8px">2</i><i style="width:8px">5</i><i style="width:8px">.</i><i style="width:8px">0</i><i style="width:8px">2</i></div><div class="n" style="left:777px;top:250px;color:#FF0000;font-size:14px"><i style="width:8px">&#8722;</i><i style="width:8px">2</i><i style="width:8px">1</i></div><div class="n" style="left:841px;top:250px;color:#000;font-size:14px"><i style="width:8px">2</i><i style="width:8px">,</i><i style="width:8px">3</i><i style="width:8px">2</i><i style="width:8px">9</i></div><div class="n" style="left:906px;top:250px;color:#000;font-size:14px"><i style="width:8px">9</i><i style="width:8px">3</i><i style="width:8px">6</i><i style="width:8px">.</i><i style="width:8px">2</i><i style="width:8px">3</i></div><div class="n b" style="left:966px;top:249.5px;color:#000;font-size:14px;transform:scaleY(1.04)"><i style="width:7px">1</i><i style="width:7px">8</i><i style="width:7px">.</i><i style="width:7px">1</i><i style="width:7px">4</i><i style="width:7px">2</i><i style="width:7px">.</i><i style="width:7px">4</i><i style="width:7px">2</i></div><div class="n" style="left:1040px;top:250px;color:#FF0000;font-size:14px"><i style="width:8px">&#8722;</i><i style="width:8px">1</i><i style="width:8px">8</i><i style="width:8px">.</i><i style="width:8px">7</i><i style="width:8px">7</i></div><div class="n" style="left:533px;top:269px;color:#000;font-size:14px"><i style="width:8px">1</i><i style="width:8px">3</i><i style="width:8px">9</i><i style="width:8px">.</i><i style="width:8px">2</i></div><div class="n" style="left:598px;top:269px;color:#000;font-size:14px"><i style="width:8px">2</i><i style="width:8px">.</i><i style="width:8px">6</i><i style="width:8px"><span style="display:inline-block;font-size:16px;transform:scaleX(0.6);transform-origin:0 0">%</span></i></div><div class="n" style="left:650px;top:269px;color:#000;font-size:14px"><i style="width:8px">4</i><i style="width:8px">0</i><i style="width:8px">.</i><i style="width:8px">3</i></div><div class="n b" style="left:687px;top:269px;color:#000;font-size:14px"><i style="width:8px">1</i><i style="width:8px">7</i><i style="width:8px">,</i><i style="width:8px">4</i><i style="width:8px">4</i><i style="width:8px">2</i><i style="width:8px">.</i><i style="width:8px">4</i><i style="width:8px">0</i></div><div class="n" style="left:785px;top:269px;color:#000;font-size:14px"><i style="width:8px">1</i><i style="width:8px">7</i></div><div class="n" style="left:841px;top:269px;color:#000;font-size:14px"><i style="width:8px">2</i><i style="width:8px">,</i><i style="width:8px">1</i><i style="width:8px">0</i><i style="width:8px">9</i></div><div class="n" style="left:906px;top:269px;color:#000;font-size:14px"><i style="width:8px">9</i><i style="width:8px">2</i><i style="width:8px">3</i><i style="width:8px">.</i><i style="width:8px">7</i><i style="width:8px">5</i></div><div class="n b" style="left:966px;top:268.5px;color:#000;font-size:14px;transform:scaleY(1.04)"><i style="width:7px">1</i><i style="width:7px">8</i><i style="width:7px">.</i><i style="width:7px">0</i><i style="width:7px">3</i><i style="width:7px">7</i><i style="width:7px">.</i><i style="width:7px">1</i><i style="width:7px">0</i></div><div class="n" style="left:1039px;top:268px;color:#FF0000;font-size:14px;transform:scaleY(1.0)"><i style="width:7px">&#8722;</i><i style="width:7px">1</i><i style="width:7px">0</i><i style="width:7px">5</i><i style="width:7px">.</i><i style="width:7px">3</i><i style="width:7px">2</i></div><div class="n" style="left:533px;top:288px;color:#000;font-size:14px"><i style="width:8px">1</i><i style="width:8px">2</i><i style="width:8px">2</i><i style="width:8px">.</i><i style="width:8px">8</i></div><div class="n" style="left:598px;top:288px;color:#000;font-size:14px"><i style="width:8px">0</i><i style="width:8px">.</i><i style="width:8px">8</i><i style="width:8px"><span style="display:inline-block;font-size:16px;transform:scaleX(0.6);transform-origin:0 0">%</span></i></div><div class="n" style="left:650px;top:288px;color:#000;font-size:14px"><i style="width:8px">3</i><i style="width:8px">9</i><i style="width:8px">.</i><i style="width:8px">0</i></div><div class="n b" style="left:687px;top:288px;color:#000;font-size:14px"><i style="width:8px">1</i><i style="width:8px">7</i><i style="width:8px">,</i><i style="width:8px">1</i><i style="width:8px">3</i><i style="width:8px">4</i><i style="width:8px">.</i><i style="width:8px">6</i><i style="width:8px">8</i></div><div class="n" style="left:769px;top:288px;color:#FF0000;font-size:14px"><i style="width:8px">&#8722;</i><i style="width:8px">3</i><i style="width:8px">0</i><i style="width:8px">8</i></div><div class="n" style="left:841px;top:288px;color:#000;font-size:14px"><i style="width:8px">2</i><i style="width:8px">,</i><i style="width:8px">2</i><i style="width:8px">0</i><i style="width:8px">7</i></div><div class="n" style="left:906px;top:288px;color:#000;font-size:14px"><i style="width:8px">8</i><i style="width:8px">9</i><i style="width:8px">2</i><i style="width:8px">.</i><i style="width:8px">6</i><i style="width:8px">5</i></div><div class="n b" style="left:966px;top:287.5px;color:#000;font-size:14px;transform:scaleY(1.04)"><i style="width:7px">1</i><i style="width:7px">7</i><i style="width:7px">.</i><i style="width:7px">9</i><i style="width:7px">5</i><i style="width:7px">9</i><i style="width:7px">.</i><i style="width:7px">6</i><i style="width:7px">4</i></div><div class="n" style="left:1040px;top:288px;color:#FF0000;font-size:14px"><i style="width:8px">&#8722;</i><i style="width:8px">7</i><i style="width:8px">7</i><i style="width:8px">.</i><i style="width:8px">4</i><i style="width:8px">6</i></div><div class="n b" style="left:966px;top:306.5px;color:#000;font-size:14px;transform:scaleY(1.04)"><i style="width:7px">1</i><i style="width:7px">7</i><i style="width:7px">.</i><i style="width:7px">9</i><i style="width:7px">3</i><i style="width:7px">0</i><i style="width:7px">.</i><i style="width:7px">6</i><i style="width:7px">7</i></div><div class="n" style="left:1040px;top:307px;color:#FF0000;font-size:14px"><i style="width:8px">&#8722;</i><i style="width:8px">2</i><i style="width:8px">8</i><i style="width:8px">.</i><i style="width:8px">9</i><i style="width:8px">7</i></div><div class="n" style="left:533px;top:326px;color:#000;font-size:14px"><i style="width:8px">1</i><i style="width:8px">2</i><i style="width:8px">0</i><i style="width:8px">.</i><i style="width:8px">6</i></div><div class="n" style="left:590px;top:326px;color:#000;font-size:14px"><i style="width:8px">&#8722;</i><i style="width:8px">0</i><i style="width:8px">.</i><i style="width:8px">7</i><i style="width:8px"><span style="display:inline-block;font-size:16px;transform:scaleX(0.6);transform-origin:0 0">%</span></i></div><div class="n" style="left:650px;top:326px;color:#000;font-size:14px"><i style="width:8px">3</i><i style="width:8px">9</i><i style="width:8px">.</i><i style="width:8px">8</i></div><div class="n b" style="left:687px;top:326px;color:#000;font-size:14px"><i style="width:8px">1</i><i style="width:8px">6</i><i style="width:8px">,</i><i style="width:8px">9</i><i style="width:8px">0</i><i style="width:8px">5</i><i style="width:8px">.</i><i style="width:8px">3</i><i style="width:8px">6</i></div><div class="n" style="left:769px;top:326px;color:#FF0000;font-size:14px"><i style="width:8px">&#8722;</i><i style="width:8px">2</i><i style="width:8px">2</i><i style="width:8px">9</i></div><div class="n" style="left:841px;top:326px;color:#000;font-size:14px"><i style="width:8px">2</i><i style="width:8px">,</i><i style="width:8px">3</i><i style="width:8px">5</i><i style="width:8px">6</i></div><div class="n" style="left:906px;top:326px;color:#000;font-size:14px"><i style="width:8px">8</i><i style="width:8px">7</i><i style="width:8px">2</i><i style="width:8px">.</i><i style="width:8px">2</i><i style="width:8px">9</i></div><div class="n b" style="left:966px;top:325.5px;color:#000;font-size:14px;transform:scaleY(1.04)"><i style="width:7px">1</i><i style="width:7px">7</i><i style="width:7px">.</i><i style="width:7px">8</i><i style="width:7px">8</i><i style="width:7px">8</i><i style="width:7px">.</i><i style="width:7px">2</i><i style="width:7px">8</i></div><div class="n" style="left:1040px;top:326px;color:#FF0000;font-size:14px"><i style="width:8px">&#8722;</i><i style="width:8px">4</i><i style="width:8px">2</i><i style="width:8px">.</i><i style="width:8px">3</i><i style="width:8px">9</i></div><div class="n" style="left:533px;top:383px;color:#000;font-size:14px"><i style="width:8px">1</i><i style="width:8px">2</i><i style="width:8px">1</i><i style="width:8px">.</i><i style="width:8px">7</i></div><div class="n" style="left:598px;top:383px;color:#000;font-size:14px"><i style="width:8px">0</i><i style="width:8px">.</i><i style="width:8px">8</i><i style="width:8px"><span style="display:inline-block;font-size:16px;transform:scaleX(0.6);transform-origin:0 0">%</span></i></div><div class="n" style="left:650px;top:383px;color:#000;font-size:14px"><i style="width:8px">3</i><i style="width:8px">7</i><i style="width:8px">.</i><i style="width:8px">2</i></div><div class="n b" style="left:687px;top:383px;color:#000;font-size:14px"><i style="width:8px">1</i><i style="width:8px">7</i><i style="width:8px">,</i><i style="width:8px">1</i><i style="width:8px">7</i><i style="width:8px">7</i><i style="width:8px">.</i><i style="width:8px">2</i><i style="width:8px">1</i></div><div class="n" style="left:777px;top:383px;color:#000;font-size:14px"><i style="width:8px">2</i><i style="width:8px">7</i><i style="width:8px">2</i></div><div class="n" style="left:841px;top:383px;color:#000;font-size:14px"><i style="width:8px">1</i><i style="width:8px">,</i><i style="width:8px">9</i><i style="width:8px">7</i><i style="width:8px">1</i></div><div class="n" style="left:906px;top:383px;color:#000;font-size:14px"><i style="width:8px">8</i><i style="width:8px">8</i><i style="width:8px">0</i><i style="width:8px">.</i><i style="width:8px">2</i><i style="width:8px">9</i></div><div class="n b" style="left:966px;top:382.5px;color:#000;font-size:14px;transform:scaleY(1.04)"><i style="width:7px">1</i><i style="width:7px">8</i><i style="width:7px">.</i><i style="width:7px">2</i><i style="width:7px">5</i><i style="width:7px">9</i><i style="width:7px">.</i><i style="width:7px">6</i><i style="width:7px">0</i></div><div class="n" style="left:1040px;top:383px;color:#000;font-size:14px"><i style="width:8px">3</i><i style="width:8px">7</i><i style="width:8px">1</i><i style="width:8px">.</i><i style="width:8px">3</i><i style="width:8px">2</i></div><div class="n" style="left:533px;top:402px;color:#000;font-size:14px"><i style="width:8px">1</i><i style="width:8px">2</i><i style="width:8px">8</i><i style="width:8px">.</i><i style="width:8px">0</i></div><div class="n" style="left:598px;top:402px;color:#000;font-size:14px"><i style="width:8px">0</i><i style="width:8px">.</i><i style="width:8px">6</i><i style="width:8px"><span style="display:inline-block;font-size:16px;transform:scaleX(0.6);transform-origin:0 0">%</span></i></div><div class="n" style="left:650px;top:402px;color:#000;font-size:14px"><i style="width:8px">3</i><i style="width:8px">9</i><i style="width:8px">.</i><i style="width:8px">6</i></div><div class="n b" style="left:687px;top:402px;color:#000;font-size:14px"><i style="width:8px">1</i><i style="width:8px">7</i><i style="width:8px">,</i><i style="width:8px">1</i><i style="width:8px">7</i><i style="width:8px">1</i><i style="width:8px">.</i><i style="width:8px">3</i><i style="width:8px">8</i></div><div class="n" style="left:785px;top:402px;color:#FF0000;font-size:14px"><i style="width:8px">&#8722;</i><i style="width:8px">6</i></div><div class="n" style="left:841px;top:402px;color:#000;font-size:14px"><i style="width:8px">1</i><i style="width:8px">,</i><i style="width:8px">7</i><i style="width:8px">7</i><i style="width:8px">6</i></div><div class="n" style="left:906px;top:402px;color:#000;font-size:14px"><i style="width:8px">8</i><i style="width:8px">7</i><i style="width:8px">5</i><i style="width:8px">.</i><i style="width:8px">9</i><i style="width:8px">9</i></div><div class="n b" style="left:966px;top:401.5px;color:#000;font-size:14px;transform:scaleY(1.04)"><i style="width:7px">1</i><i style="width:7px">8</i><i style="width:7px">.</i><i style="width:7px">3</i><i style="width:7px">3</i><i style="width:7px">2</i><i style="width:7px">.</i><i style="width:7px">7</i><i style="width:7px">4</i></div><div class="n" style="left:1048px;top:402px;color:#000;font-size:14px"><i style="width:8px">7</i><i style="width:8px">3</i><i style="width:8px">.</i><i style="width:8px">1</i><i style="width:8px">4</i></div><div class="n" style="left:533px;top:421px;color:#000;font-size:14px"><i style="width:8px">1</i><i style="width:8px">1</i><i style="width:8px">3</i><i style="width:8px">.</i><i style="width:8px">8</i></div><div class="n" style="left:590px;top:421px;color:#000;font-size:14px"><i style="width:8px">&#8722;</i><i style="width:8px">4</i><i style="width:8px">.</i><i style="width:8px">9</i><i style="width:8px"><span style="display:inline-block;font-size:16px;transform:scaleX(0.6);transform-origin:0 0">%</span></i></div><div class="n" style="left:650px;top:421px;color:#000;font-size:14px"><i style="width:8px">4</i><i style="width:8px">2</i><i style="width:8px">.</i><i style="width:8px">9</i></div><div class="n b" style="left:687px;top:421px;color:#000;font-size:14px"><i style="width:8px">1</i><i style="width:8px">6</i><i style="width:8px">,</i><i style="width:8px">2</i><i style="width:8px">5</i><i style="width:8px">1</i><i style="width:8px">.</i><i style="width:8px">5</i><i style="width:8px">4</i></div><div class="n" style="left:769px;top:421px;color:#FF0000;font-size:14px"><i style="width:8px">&#8722;</i><i style="width:8px">9</i><i style="width:8px">2</i><i style="width:8px">0</i></div><div class="n" style="left:841px;top:421px;color:#000;font-size:14px"><i style="width:8px">3</i><i style="width:8px">,</i><i style="width:8px">9</i><i style="width:8px">2</i><i style="width:8px">4</i></div><div class="n" style="left:906px;top:421px;color:#000;font-size:14px"><i style="width:8px">8</i><i style="width:8px">2</i><i style="width:8px">9</i><i style="width:8px">.</i><i style="width:8px">4</i><i style="width:8px">0</i></div><div class="n" style="left:310px;top:60px;color:#000;font-size:14px"><i style="width:8px">6</i><i style="width:8px">7</i><i style="width:8px">,</i><i style="width:8px">6</i><i style="width:8px">1</i><i style="width:8px">5</i></div><div class="n" style="left:395px;top:60px;color:#FF0000;font-size:14px"><i style="width:8px">&#8722;</i><i style="width:8px">5</i><i style="width:8px">1</i><i style="width:8px">,</i><i style="width:8px">3</i><i style="width:8px">8</i><i style="width:8px">4</i></div><div class="n" style="left:461px;top:60px;color:#FF0000;font-size:14px"><i style="width:8px">&#8722;</i><i style="width:8px">1</i><i style="width:8px">8</i><i style="width:8px">2</i><i style="width:8px">,</i><i style="width:8px">7</i><i style="width:8px">4</i><i style="width:8px">0</i></div><div class="n" style="left:310px;top:193px;color:#000;font-size:14px"><i style="width:8px">1</i><i style="width:8px">0</i><i style="width:8px">,</i><i style="width:8px">5</i><i style="width:8px">7</i><i style="width:8px">8</i></div><div class="n" style="left:387px;top:193px;color:#FF0000;font-size:14px"><i style="width:8px">&#8722;</i><i style="width:8px">1</i><i style="width:8px">4</i><i style="width:8px">4</i><i style="width:8px">,</i><i style="width:8px">0</i><i style="width:8px">0</i><i style="width:8px">0</i></div><div class="n" style="left:461px;top:193px;color:#FF0000;font-size:14px"><i style="width:8px">&#8722;</i><i style="width:8px">2</i><i style="width:8px">8</i><i style="width:8px">6</i><i style="width:8px">,</i><i style="width:8px">9</i><i style="width:8px">2</i><i style="width:8px">0</i></div><div class="dt" style="top:19px"><i>1</i><i>0</i><b>月</b><i>1</i><i>9</i><b>日</b></div><div class="dt" style="top:38px"><i>1</i><i>0</i><b>月</b><i>2</i><i>0</i><b>日</b></div><div class="dt" style="top:57px"><i>1</i><i>0</i><b>月</b><i>2</i><i>1</i><b>日</b></div><div class="dt" style="top:76px"><i>1</i><i>0</i><b>月</b><i>2</i><i>2</i><b>日</b></div><div class="dt" style="top:95px"><i>1</i><i>0</i><b>月</b><i>2</i><i>3</i><b>日</b></div><div class="dt" style="top:114px"><i>1</i><i>0</i><b>月</b><i>2</i><i>4</i><b>日</b></div><div class="dt" style="top:133px"><i>1</i><i>0</i><b>月</b><i>2</i><i>5</i><b>日</b></div><div class="dt" style="top:152px"><i>1</i><i>0</i><b>月</b><i>2</i><i>6</i><b>日</b></div><div class="dt" style="top:171px"><i>1</i><i>0</i><b>月</b><i>2</i><i>7</i><b>日</b></div><div class="dt" style="top:190px"><i>1</i><i>0</i><b>月</b><i>2</i><i>8</i><b>日</b></div><div class="dt" style="top:209px"><i>1</i><i>0</i><b>月</b><i>2</i><i>9</i><b>日</b></div><div class="dt" style="top:228px"><i>1</i><i>0</i><b>月</b><i>3</i><i>0</i><b>日</b></div><div class="dt" style="top:247px"><i>1</i><i>0</i><b>月</b><i>3</i><i>1</i><b>日</b></div><div class="dt" style="top:266px"><i>1</i><i>1</i><b>月</b><i>1</i><b>日</b></div><div class="dt" style="top:285px"><i>1</i><i>1</i><b>月</b><i>2</i><b>日</b></div><div class="dt" style="top:304px"><i>1</i><i>1</i><b>月</b><i>3</i><b>日</b></div><div class="dt" style="top:323px"><i>1</i><i>1</i><b>月</b><i>4</i><b>日</b></div><div class="dt" style="top:342px"><i>1</i><i>1</i><b>月</b><i>5</i><b>日</b></div><div class="dt" style="top:361px"><i>1</i><i>1</i><b>月</b><i>6</i><b>日</b></div><div class="dt" style="top:380px"><i>1</i><i>1</i><b>月</b><i>7</i><b>日</b></div><div class="dt" style="top:399px"><i>1</i><i>1</i><b>月</b><i>8</i><b>日</b></div><div class="dt" style="top:418px"><i>1</i><i>1</i><b>月</b><i>9</i><b>日</b></div><div class="dt" style="top:437px"><i>1</i><i>1</i><b>月</b><i>1</i><i>0</i><b>日</b></div><div class="n b" style="left:295px;top:458px;color:#FF0000;font-size:15px"><i style="width:7px">2</i><i style="width:7px">,</i><i style="width:7px">5</i><i style="width:7px">1</i><i style="width:7px">3</i><i style="width:7px">,</i><i style="width:7px">6</i><i style="width:7px">5</i><i style="width:7px">1</i></div><div class="n b" style="left:381px;top:458px;color:#000;font-size:15px"><i style="width:7px">4</i><i style="width:7px">1</i><i style="width:7px">,</i><i style="width:7px">4</i><i style="width:7px">0</i><i style="width:7px">6</i><i style="width:7px">,</i><i style="width:7px">0</i><i style="width:7px">0</i><i style="width:7px">0</i></div><div class="n b" style="left:469px;top:458px;color:#FF0000;font-size:15px"><i style="width:7px">&#8722;</i><i style="width:7px">9</i><i style="width:7px">2</i><i style="width:7px">1</i><i style="width:7px">,</i><i style="width:7px">8</i><i style="width:7px">6</i><i style="width:7px">7</i></div><div class="note small" style="top:19px">中国<i>G</i><i>D</i><i>P</i>前年プラス<i>6</i><i>.</i><i>7</i><i>%</i>　予想超える</div><div class="note big" style="top:38px">バイクラ？</div><div class="note big" style="top:114px">出来高少ない</div><div class="note big" style="top:152px"><i>Z</i><i>M</i><i>P</i>上場情報　１２月か</div><div class="note big" style="top:190px">出来高急増</div><div class="note big" style="top:266px">出来高復活</div><div class="note big" style="top:285px">トランプ優勢報道</div><div class="note small" style="top:323px">トランプ　クリントンつばぜり合い</div><div class="note big" style="top:380px"><i>F</i><i>B</i><i>I</i>クリントン追訴せず</div><div class="note small" style="top:399px">相場に元気ないが　閑散に売りなし？</div><div class="note big" style="top:418px">トランプ勝利</div><div class="h" style="left:64px;top:1.5px;font-size:12px;letter-spacing:0.45px;font-weight:normal;transform:scaleY(0.95);color:#9C0006">外人寄付注文(万株)</div><div class="h" style="left:198px;top:0px;font-size:8.5px;letter-spacing:-0.4px;font-weight:bold;transform:scaleY(0.8);color:#000">寄り付き金額(億)</div><div class="h" style="left:286px;top:-0.5px;font-size:10px;letter-spacing:0.1px;font-weight:bold;transform:scaleY(0.72);color:#000">外人　週間差額</div><div class="h" style="left:362px;top:2.5px;font-size:15px;letter-spacing:1.0px;font-weight:normal;transform:scaleY(1.0);color:#111">法人　週間</div><div class="h" style="left:455px;top:2.5px;font-size:14px;letter-spacing:0px;font-weight:normal;transform:scaleY(1.0);color:#111">個人　週間</div><div class="h" style="left:529px;top:0.5px;font-size:9px;letter-spacing:-0.2px;font-weight:bold;transform:scaleY(0.78);color:#000">騰落レシオ</div><div class="h" style="left:577px;top:2.5px;font-size:12px;letter-spacing:0px;font-weight:normal;transform:scaleY(1.0);color:#111">移動平均</div><div class="h" style="left:634px;top:2px;font-size:10px;letter-spacing:0.5px;font-weight:normal;transform:scaleY(0.85);color:#000">空売比率</div><div class="h" style="left:686px;top:2px;font-size:11px;letter-spacing:0px;font-weight:bold;transform:scaleY(0.85);color:#111">日経平均終値</div><div class="h" style="left:764px;top:1.5px;font-size:11.5px;letter-spacing:0.5px;font-weight:normal;transform:scaleY(0.8);color:#111">前日比</div><div class="h" style="left:806px;top:2px;font-size:11.5px;letter-spacing:0px;font-weight:normal;transform:scaleY(1.0);color:#111">東証一部売買</div><div class="h" style="left:885px;top:2px;font-size:15.5px;letter-spacing:0px;font-weight:normal;transform:scaleY(1.0);color:#111">マザーズ</div><div class="h" style="left:959px;top:2px;font-size:15px;letter-spacing:2.3px;font-weight:bold;transform:scaleY(1.0);color:#111">ダウ終値</div><div class="h" style="left:1034px;top:2.5px;font-size:15px;letter-spacing:1px;font-weight:normal;transform:scaleY(1.0);color:#111">前日比</div><div class="h" style="left:1092px;top:1.5px;font-size:8px;letter-spacing:0.3px;font-weight:normal;transform:scaleY(1.0);color:#111">ラドン</div><div class="h" style="left:1125px;top:2.5px;font-size:15px;letter-spacing:1px;font-weight:normal;transform:scaleY(1.0);color:#111">備考</div></div></body></html>
